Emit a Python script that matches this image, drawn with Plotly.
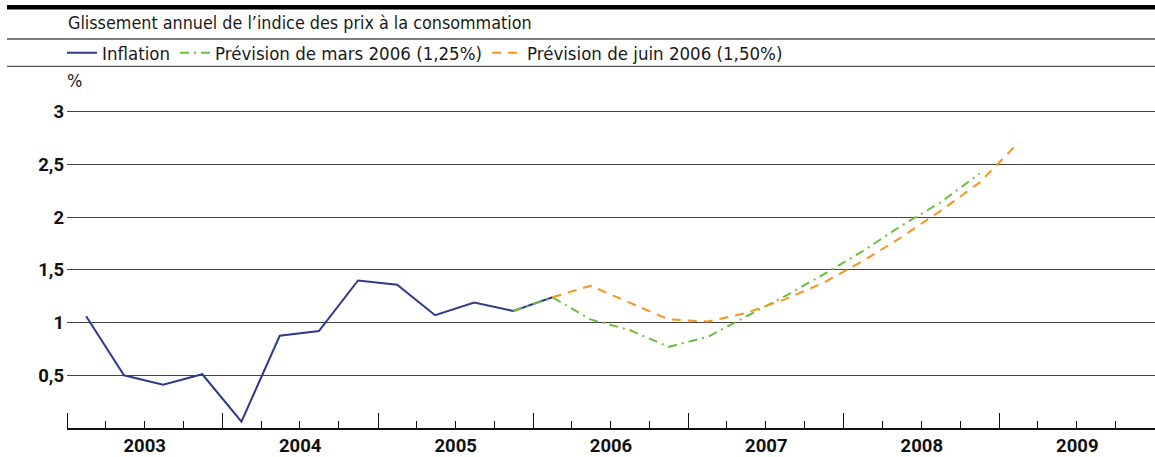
import plotly.graph_objects as go

# ---------------- data ----------------
quarters_inflation = ["2003T1", "2003T2", "2003T3", "2003T4",
                      "2004T1", "2004T2", "2004T3", "2004T4",
                      "2005T1", "2005T2", "2005T3", "2005T4",
                      "2006T1"]
inflation = [1.06, 0.50, 0.41, 0.51, 0.06, 0.875, 0.92, 1.40, 1.36, 1.07, 1.19, 1.11, 1.24]

quarters_mars = ["2005T4", "2006T1", "2006T2", "2006T3", "2006T4",
                 "2007T1", "2007T2", "2007T3", "2007T4",
                 "2008T1", "2008T2", "2008T3", "2008T4"]
prevision_mars = [1.11, 1.24, 1.03, 0.93, 0.77, 0.865, 1.055, 1.25, 1.46, 1.68, 1.92, 2.14, 2.415]

quarters_juin = ["2006T1", "2006T2", "2006T3", "2006T4",
                 "2007T1", "2007T2", "2007T3", "2007T4",
                 "2008T1", "2008T2", "2008T3", "2008T4",
                 "2009T1"]
prevision_juin = [1.24, 1.35, 1.19, 1.03, 1.01, 1.09, 1.22, 1.38, 1.585, 1.81, 2.06, 2.33, 2.71]

y_ticks = [0.5, 1, 1.5, 2, 2.5, 3]
y_tick_labels = ["0,5", "1", "1,5", "2", "2,5", "3"]

series_names = ["Inflation", "Prévision de mars 2006 (1,25%)", "Prévision de juin 2006 (1,50%)"]
title_text = "Glissement annuel de l’indice des prix à la consommation"
unit_text = "%"


def quarter_mid(q):
    year, qi = q.split("T")
    month = 3 * (int(qi) - 1) + 2
    return f"{year}-{month:02d}-15"


# ---------------- figure ----------------
W, H = 1155, 457
ML, MR, MT, MB = 67, 0, 96, 25
plot_h = H - MT - MB


def py(ypix):
    """pixel row -> paper y"""
    return (H - MB - ypix) / plot_h


def px(xpix):
    return (xpix - ML) / (W - ML - MR)


COND = "DejaVu Sans Condensed, Liberation Sans Narrow, DejaVu Sans, sans-serif"
BOLD = "Roboto, DejaVu Sans, sans-serif"

fig = go.Figure()
fig.add_trace(go.Scatter(
    x=[quarter_mid(q) for q in quarters_inflation], y=inflation,
    mode="lines", name=series_names[0],
    line=dict(color="#2e3a8c", width=2)))
fig.add_trace(go.Scatter(
    x=[quarter_mid(q) for q in quarters_mars], y=prevision_mars,
    mode="lines", name=series_names[1],
    line=dict(color="#6cbf3c", width=2, dash="9px,5px,2px,5px")))
fig.add_trace(go.Scatter(
    x=[quarter_mid(q) for q in quarters_juin], y=prevision_juin,
    mode="lines", name=series_names[2],
    line=dict(color="#f7941d", width=2, dash="9px,7px")))

fig.update_layout(
    width=W, height=H,
    margin=dict(l=ML, r=MR, t=MT, b=MB, pad=0),
    paper_bgcolor="white", plot_bgcolor="white",
    separators=", ",
    title=dict(text=title_text, x=px(68), xref="paper", xanchor="left",
               y=1 - 22.7 / H, yref="container", yanchor="middle",
               font=dict(family=COND, size=17.8, color="#1a1a1a")),
    showlegend=True,
    legend=dict(orientation="h", x=px(62), xanchor="left", y=py(52.7), yanchor="middle",
                font=dict(family=COND, size=18.5, color="#1a1a1a"),
                bgcolor="rgba(0,0,0,0)", itemwidth=30, traceorder="normal"),
    xaxis=dict(
        type="date", range=["2003-01-01", "2010-01-01"],
        tick0="2003-01-01", dtick="M12", tickformat="%Y", ticklabelmode="period",
        ticks="inside", ticklen=15, tickwidth=1.3, tickcolor="#111",
        minor=dict(dtick="M3", tick0="2003-01-01", ticks="inside", ticklen=7,
                   tickwidth=1.3, tickcolor="#111", showgrid=False),
        showgrid=False, showline=True, linecolor="#111", linewidth=1.5,
        zeroline=False, fixedrange=True,
        tickfont=dict(family=BOLD, size=18.5, color="#111", weight=700)),
    yaxis=dict(
        range=[0, plot_h / ((H - MB - 112) / 3)],
        tickmode="array", tickvals=y_ticks, ticktext=y_tick_labels,
        showgrid=True, gridcolor="#444", gridwidth=1.4,
        zeroline=False, showline=False, ticks="", fixedrange=True,
        tickfont=dict(family=BOLD, size=18.5, color="#111", weight=700),
        ticklabelstandoff=2),
    shapes=[
        dict(type="line", xref="paper", yref="paper", x0=px(7), x1=1, y0=py(6.3), y1=py(6.3),
             line=dict(color="#000", width=4.5)),
        dict(type="line", xref="paper", yref="paper", x0=px(7), x1=1, y0=py(38.3), y1=py(38.3),
             line=dict(color="#555", width=1.3)),
        dict(type="line", xref="paper", yref="paper", x0=px(7), x1=1, y0=py(66), y1=py(66),
             line=dict(color="#555", width=1.3)),
    ],
    annotations=[
        dict(text=unit_text, xref="paper", yref="paper", x=px(65), y=py(80),
             xanchor="left", yanchor="middle", showarrow=False,
             font=dict(family=COND, size=18, color="#1a1a1a")),
    ],
)

fig.write_html("out.html",
               config={"displayModeBar": False},
               post_script="document.body.style.margin='0';document.body.style.overflow='hidden';")
